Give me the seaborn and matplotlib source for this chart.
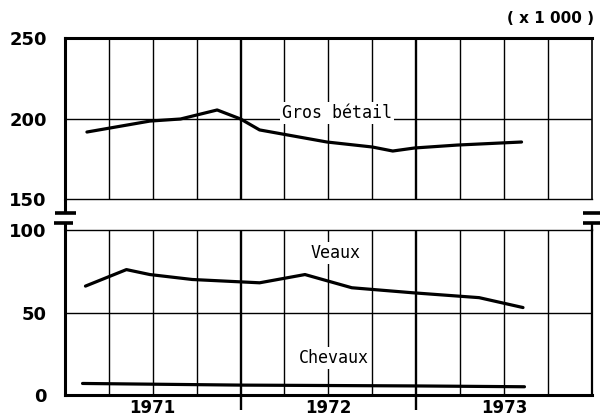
import matplotlib
matplotlib.use("Agg")
import matplotlib.pyplot as plt
import seaborn as sns


# ==================================
# DATA (months since Jan 1971, values x 1000)
# ==================================

gros_mois = [1.5, 5.8, 7.9, 10.4, 12.0, 13.3, 15.2, 17.9, 21.0, 22.4, 23.9, 26.8, 31.2]
gros_val = [191.6, 198.4, 199.7, 205.3, 199.7, 192.9, 189.8, 185.4, 182.3, 179.8, 181.7, 183.5, 185.4]

veaux_mois = [1.4, 4.2, 5.8, 8.7, 13.3, 16.4, 19.6, 23.7, 28.3, 31.3]
veaux_val = [66, 76, 73, 70, 68, 73, 65, 62, 59, 53]

chevaux_mois = [1.2, 12, 24, 31.4]
chevaux_val = [7, 6, 5.5, 5]

annees = ["1971", "1972", "1973"]
yticks_haut = [150, 200, 250]
yticks_bas = [0, 50, 100]


# ==================================
# FIGURE
# ==================================

sns.set_style("white")
plt.rcParams["font.family"] = ["DejaVu Sans"]
plt.rcParams["text.color"] = "black"
plt.rcParams["xtick.color"] = "black"
plt.rcParams["ytick.color"] = "black"

fig = plt.figure(figsize=(6, 4.2), dpi=100)
ax_top = fig.add_axes([0.1083, 0.5262, 0.878, 0.3833])
ax_bot = fig.add_axes([0.1083, 0.0595, 0.878, 0.3929])

for ax, ylim, yt in [(ax_top, (150, 250), yticks_haut), (ax_bot, (0, 100), yticks_bas)]:
    ax.set_xlim(0, 36)
    ax.set_ylim(*ylim)
    ax.set_yticks(yt)
    ax.set_yticklabels([str(v) for v in yt], fontsize=13, fontweight="bold")
    ax.tick_params(axis="y", length=0, pad=13)
    ax.axhline(yt[1], color="black", lw=1.0, zorder=1)
    # quarter grid, thicker at year boundaries
    for q in range(3, 36, 3):
        ax.axvline(q, color="black", lw=1.7 if q % 12 == 0 else 1.0, zorder=1)
    for side in ["left", "right", "top", "bottom"]:
        ax.spines[side].set_color("black")
    ax.set_xlabel("")
    ax.set_ylabel("")

ax_top.spines["left"].set_linewidth(2.2)
ax_top.spines["top"].set_linewidth(2.2)
ax_top.spines["right"].set_linewidth(1.2)
ax_top.spines["bottom"].set_linewidth(1.0)
ax_bot.spines["left"].set_linewidth(2.2)
ax_bot.spines["bottom"].set_linewidth(2.2)
ax_bot.spines["right"].set_linewidth(1.6)
ax_bot.spines["top"].set_linewidth(1.0)

ax_top.set_xticks([])
ax_bot.set_xticks([12, 24])
ax_bot.set_xticklabels([])
ax_bot.tick_params(axis="x", which="major", length=11, width=1.7, direction="out", bottom=True)
ax_bot.set_xticks([6, 18, 30], minor=True)
ax_bot.set_xticklabels(annees, minor=True, fontsize=12, fontweight="bold")
ax_bot.tick_params(axis="x", which="minor", length=0, pad=3, bottom=True)

# ==================================
# SERIES
# ==================================

sns.lineplot(x=gros_mois, y=gros_val, ax=ax_top, color="black", lw=2.3, zorder=3)
sns.lineplot(x=veaux_mois, y=veaux_val, ax=ax_bot, color="black", lw=2.3, zorder=3)
sns.lineplot(x=chevaux_mois, y=chevaux_val, ax=ax_bot, color="black", lw=2.3, zorder=3)

box = dict(facecolor="white", edgecolor="none", pad=1.5)
lab = dict(fontsize=12, family="DejaVu Sans Mono", ha="center", va="center", bbox=box, zorder=4)
ax_top.text(18.6, 203.5, "Gros bétail", **lab)
ax_bot.text(18.5, 86, "Veaux", **lab)
ax_bot.text(18.4, 22.5, "Chevaux", **lab)

# ==================================
# AXIS BREAK MARKS
# ==================================

kw = dict(color="black", clip_on=False, solid_capstyle="butt")
ax_top.plot([0, 0], [0, -0.087], transform=ax_top.transAxes, lw=2.2, **kw)
ax_top.plot([-0.019, 0.021], [-0.087, -0.087], transform=ax_top.transAxes, lw=2.6, **kw)
ax_top.plot([0.983, 1.015], [-0.087, -0.087], transform=ax_top.transAxes, lw=2.6, **kw)
ax_bot.plot([0, 0], [1, 1.042], transform=ax_bot.transAxes, lw=2.2, **kw)
ax_bot.plot([-0.021, 0.015], [1.042, 1.042], transform=ax_bot.transAxes, lw=2.6, **kw)
ax_bot.plot([1, 1], [1, 1.042], transform=ax_bot.transAxes, lw=1.6, **kw)
ax_bot.plot([0.983, 1.015], [1.042, 1.042], transform=ax_bot.transAxes, lw=2.6, **kw)

fig.text(0.99, 0.955, "( x 1 000 )", fontsize=11, fontweight="bold", ha="right", va="center")

fig.savefig("out.png", dpi=100)
